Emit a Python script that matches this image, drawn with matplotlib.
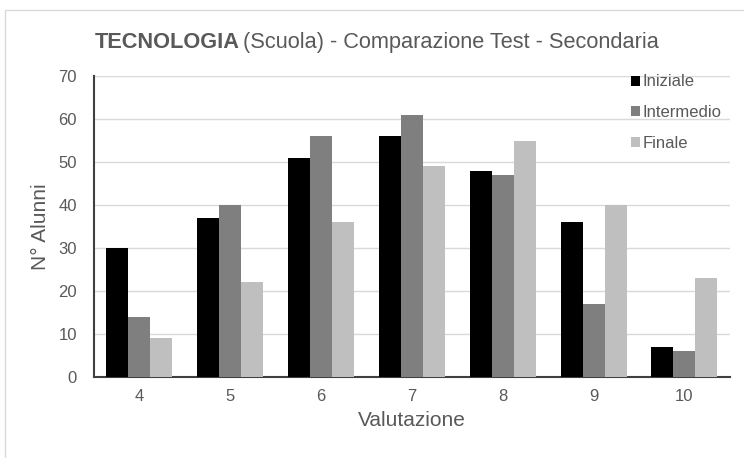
import numpy as np
import matplotlib.pyplot as plt
from matplotlib.patches import Rectangle

plt.rcParams['font.family'] = ['Liberation Sans', 'DejaVu Sans']

## Data
voti = ['4', '5', '6', '7', '8', '9', '10']
iniziale = [30, 37, 51, 56, 48, 36, 7]
intermedio = [14, 40, 56, 61, 47, 17, 6]
finale = [9, 22, 36, 49, 55, 40, 23]
serie = ['Iniziale', 'Intermedio', 'Finale']
colori = ['#000000', '#7f7f7f', '#bfbfbf']

TXT = '#595959'

fig = plt.figure(figsize=(7.44, 4.58), dpi=100)
ax = fig.add_axes([0.126, 0.177, 0.855, 0.657])

# light frame around the chart
fig.patches.append(Rectangle((5 / 744, -0.05), 1.1, 1 - 10 / 458 + 0.05,
                             transform=fig.transFigure, fill=False,
                             edgecolor='#d9d9d9', lw=1))

x = np.arange(len(voti))
w = 0.242
for i, (vals, c, lab) in enumerate(zip([iniziale, intermedio, finale], colori, serie)):
    ax.bar(x + (i - 1) * w, vals, w, color=c, label=lab, zorder=3)

ax.set_xlim(-0.5, len(voti) - 0.5)
ax.set_ylim(0, 70)
ax.set_yticks(range(0, 71, 10))
ax.set_xticks(x)
ax.set_xticklabels(voti)
ax.grid(axis='y', color='#d9d9d9', lw=1, zorder=0)
ax.tick_params(colors=TXT, labelsize=12, length=0)
ax.tick_params(axis='x', pad=9)
ax.tick_params(axis='y', pad=12)
for s in ['top', 'right']:
    ax.spines[s].set_visible(False)
for s in ['left', 'bottom']:
    ax.spines[s].set_color('#404040')
    ax.spines[s].set_linewidth(1.5)

ax.set_xlabel('Valutazione', color=TXT, fontsize=15, labelpad=5)
ax.set_ylabel('N° Alunni', color=TXT, fontsize=15, labelpad=6)

t1 = fig.text(0.128, 0.907, 'TECNOLOGIA', fontsize=15.7, fontweight='bold', color=TXT,
              va='center', ha='left')
fig.canvas.draw()
bb = t1.get_window_extent()
fig.text((bb.x1 + 3) / fig.bbox.width, 0.907, '(Scuola) - Comparazione Test - Secondaria',
         fontsize=15.7, color=TXT, va='center', ha='left')

leg = ax.legend(loc='upper right', bbox_to_anchor=(1.01, 1.055), frameon=False,
                handlelength=0.55, handleheight=0.55, handletextpad=0.15,
                labelspacing=0.95, fontsize=12)
for t in leg.get_texts():
    t.set_color(TXT)

fig.savefig('out.png', dpi=100)
